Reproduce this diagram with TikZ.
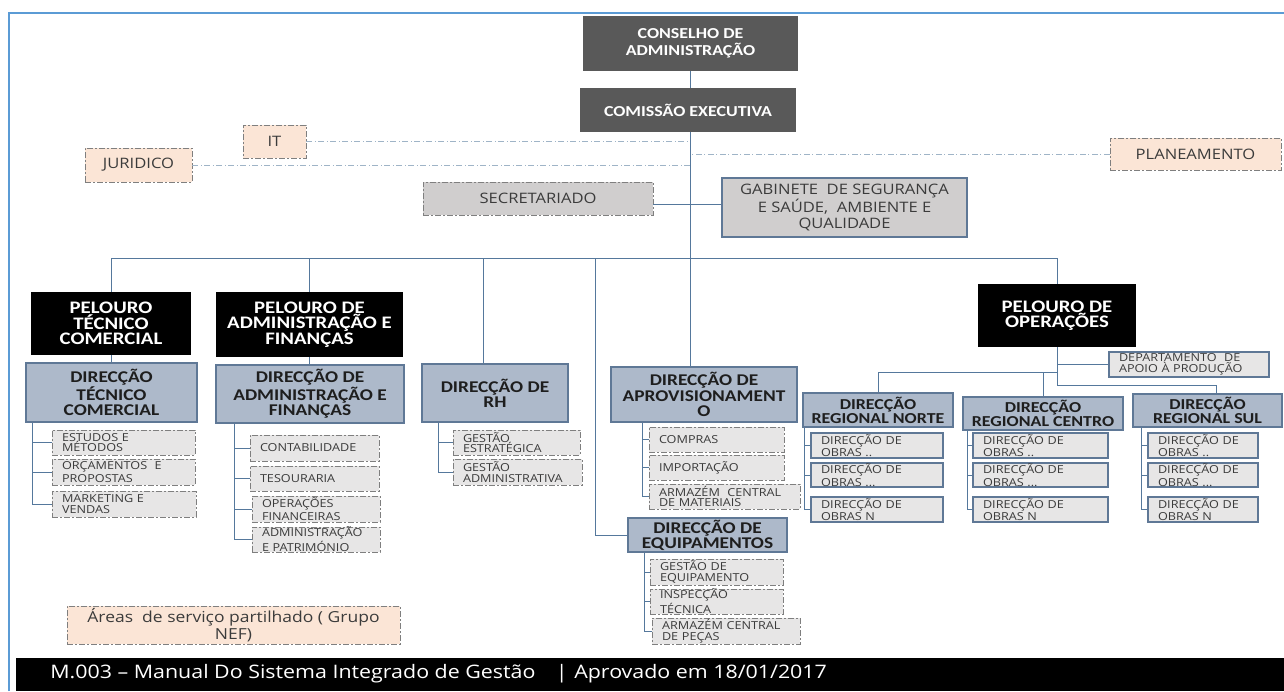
\documentclass[tikz,border=0pt]{standalone}
\usepackage{fontspec}
\setmainfont{Open Sans}[FakeStretch=1.15]
\newfontfamily\hdrfont{Carlito}[FakeStretch=1.18]
\usetikzlibrary{calc}
\definecolor{darkboxc}{HTML}{595959}
\definecolor{hdrfill}{HTML}{ADB9CA}
\definecolor{hdrdraw}{HTML}{5F7896}
\definecolor{subfill}{HTML}{E7E6E6}
\definecolor{subdraw}{HTML}{7F7F7F}
\definecolor{peachc}{HTML}{FBE5D6}
\definecolor{secfill}{HTML}{D0CECE}
\definecolor{conncol}{HTML}{55789C}
\definecolor{dashcol}{HTML}{9FB4C7}
\definecolor{framecol}{HTML}{5B9BD5}
\definecolor{txtc}{HTML}{3B3B3B}
\definecolor{dirtxt}{HTML}{1E1E1E}
\newcommand{\cbox}[7]{%
  \pgfmathsetmacro{\bxcx}{(#3+#5)/2}\pgfmathsetmacro{\bxcy}{(#4+#6)/2}%
  \pgfmathsetmacro{\bxw}{(#5-#3)*0.5}\pgfmathsetmacro{\bxh}{(#6-#4)*0.5}%
  \pgfmathsetmacro{\bxtw}{\bxw-10}%
  \node[#1, minimum width=\bxw pt, minimum height=\bxh pt] (#2) at (\bxcx,\bxcy) {#7};}
\tikzset{
  ddpat/.style={dash pattern=on 2.8pt off 1.2pt on 0.8pt off 1.2pt},
  boxbase/.style={inner sep=0pt, align=center},
  darkbox/.style={boxbase, fill=darkboxc, text=white, font=\hdrfont\bfseries\fontsize{7.6}{8.3}\selectfont},
  pel/.style={boxbase, fill=black, text=white, font=\hdrfont\bfseries\fontsize{8.8}{7.7}\selectfont},
  dir/.style={boxbase, fill=hdrfill, draw=hdrdraw, line width=0.6pt, text=dirtxt, font=\hdrfont\bfseries\fontsize{8.2}{7.6}\selectfont},
  reg/.style={dir, font=\hdrfont\bfseries\fontsize{7.6}{7}\selectfont},
  sub/.style={boxbase, fill=subfill, draw=subdraw, line width=0.45pt, ddpat, text=txtc, text width=\bxtw pt, align=left, inner xsep=5pt, font=\fontsize{5.5}{5.2}\selectfont},
  obra/.style={sub, draw=hdrdraw, solid, line width=0.55pt},
  peachbox/.style={boxbase, fill=peachc, draw=subdraw, line width=0.45pt, ddpat, text=txtc, font=\fontsize{7.2}{8}\selectfont},
  nefbox/.style={peachbox, font=\fontsize{7.6}{8.4}\selectfont},
  secbox/.style={boxbase, fill=secfill, draw=subdraw, line width=0.45pt, ddpat, text=txtc, font=\fontsize{7.2}{8}\selectfont},
  gabbox/.style={boxbase, fill=secfill, draw=hdrdraw, line width=0.6pt, text=txtc, font=\fontsize{7.2}{8}\selectfont},
  conn/.style={draw=conncol, line width=0.5pt},
  dline/.style={draw=dashcol, line width=0.5pt, dash pattern=on 3pt off 1.2pt on 0.6pt off 1.2pt},
  footbar/.style={fill=black, inner sep=0pt},
}
\begin{document}
\begin{tikzpicture}[x=0.5pt, y=-0.5pt]
\useasboundingbox (0,0) rectangle (1284,691);
% frame
\draw[framecol, line width=1pt] (9,691) -- (9,13) -- (1284,13);
% top
\cbox{darkbox}{cons}{583}{16}{798}{71}{CONSELHO DE\\ADMINISTRAÇÃO}
\cbox{darkbox}{comi}{580}{88}{796}{132}{COMISSÃO EXECUTIVA}
\cbox{peachbox}{it}{243}{125}{306}{158}{IT}
\cbox{peachbox}{jur}{85}{148}{192}{182}{JURIDICO}
\cbox{peachbox}{plan}{1110}{138}{1281}{170}{PLANEAMENTO}
\cbox{secbox}{secr}{423}{182}{653}{215}{SECRETARIADO}
\cbox{gabbox}{gab}{722}{178}{967}{237}{GABINETE\ \ DE SEGURANÇA\\E SAÚDE,\ \ AMBIENTE E\\QUALIDADE}
% pelouros
\cbox{pel}{ptc}{31}{292}{191}{355}{PELOURO\\TÉCNICO\\COMERCIAL}
\cbox{pel}{paf}{216}{292}{403}{357}{PELOURO DE\\ADMINISTRAÇÃO E\\FINANÇAS}
\cbox{pel}{pof}{978}{284}{1136}{347}{PELOURO DE\\OPERAÇÕES}
% direccoes
\cbox{dir}{dtc}{26}{363}{197}{422}{DIRECÇÃO\\TÉCNICO\\COMERCIAL}
\cbox{dir}{daf}{216}{365}{404}{423}{DIRECÇÃO DE\\ADMINISTRAÇÃO E\\FINANÇAS}
\cbox{dir}{drh}{422}{364}{568}{422}{DIRECÇÃO DE\\RH}
\cbox{dir}{dap}{611}{367}{797}{422}{DIRECÇÃO DE\\APROVISIONAMENT\\O}
\cbox{dir}{deq}{628}{518}{787}{552}{DIRECÇÃO DE\\EQUIPAMENTOS}
\cbox{reg}{dno}{803}{393}{953}{427}{DIRECÇÃO\\REGIONAL NORTE}
\cbox{reg}{dce}{963}{397}{1123}{430}{DIRECÇÃO\\REGIONAL CENTRO}
\cbox{reg}{dsu}{1133}{394}{1282}{427}{DIRECÇÃO\\REGIONAL SUL}
\cbox{obra}{dept}{1109}{352}{1269}{377}{DEPARTAMENTO\ \ DE\\APOIO À PRODUÇÃO}
% sub items
\cbox{sub}{tc1}{52}{430}{195}{455}{ESTUDOS E\\MÉTODOS}
\cbox{sub}{tc2}{52}{459}{195}{485}{ORÇAMENTOS\ \ E\\PROPOSTAS}
\cbox{sub}{tc3}{52}{491}{196}{517}{MARKETING E\\VENDAS}
\cbox{sub}{af1}{250}{435}{379}{461}{CONTABILIDADE}
\cbox{sub}{af2}{250}{466}{379}{491}{TESOURARIA}
\cbox{sub}{af3}{252}{496}{380}{522}{OPERAÇÕES\\FINANCEIRAS}
\cbox{sub}{af4}{252}{527}{380}{552}{ADMINISTRAÇÃO\\E PATRIMÓNIO}
\cbox{sub}{rh1}{453}{430}{580}{455}{GESTÃO\\ESTRATÉGICA}
\cbox{sub}{rh2}{453}{459}{582}{485}{GESTÃO\\ADMINISTRATIVA}
\cbox{sub}{ap1}{649}{427}{784}{452}{COMPRAS}
\cbox{sub}{ap2}{649}{455}{784}{480}{IMPORTAÇÃO}
\cbox{sub}{ap3}{649}{484}{800}{509}{ARMAZÉM\ \ CENTRAL\\DE MATERIAIS}
\cbox{sub}{eq1}{650}{559}{783}{585}{GESTÃO DE\\EQUIPAMENTO}
\cbox{sub}{eq2}{650}{589}{783}{614}{INSPECÇÃO\\TÉCNICA}
\cbox{sub}{eq3}{652}{618}{800}{644}{ARMAZÉM CENTRAL\\DE PEÇAS}
\cbox{obra}{no1}{811}{433}{943}{458}{DIRECÇÃO DE\\OBRAS ..}
\cbox{obra}{no2}{811}{463}{943}{487}{DIRECÇÃO DE\\OBRAS ...}
\cbox{obra}{no3}{811}{497}{943}{522}{DIRECÇÃO DE\\OBRAS N}
\cbox{obra}{ce1}{973}{433}{1108}{458}{DIRECÇÃO DE\\OBRAS ..}
\cbox{obra}{ce2}{973}{463}{1108}{487}{DIRECÇÃO DE\\OBRAS ...}
\cbox{obra}{ce3}{973}{497}{1108}{522}{DIRECÇÃO DE\\OBRAS N}
\cbox{obra}{su1}{1148}{433}{1258}{458}{DIRECÇÃO DE\\OBRAS ..}
\cbox{obra}{su2}{1148}{463}{1258}{487}{DIRECÇÃO DE\\OBRAS ...}
\cbox{obra}{su3}{1148}{497}{1258}{522}{DIRECÇÃO DE\\OBRAS N}
\cbox{nefbox}{nef}{67}{606}{400}{644}{Áreas\ \ de serviço partilhado ( Grupo\\NEF)}
% footer
\cbox{footbar}{fbar}{16}{658}{1284}{691}{}
\node[anchor=west, inner sep=0pt, text=white, font=\fontsize{9.3}{10}\selectfont] (ftxt) at (50,674) {M.003 – Manual Do Sistema Integrado de Gestão\hspace{1.1em}|\hspace{0.35em}Aprovado em 18/01/2017};
% coordinates
\coordinate (trk) at (690,0);
\coordinate (bar) at (0,258);
\coordinate (rhx) at (483,0);
\coordinate (eqx) at (595,0);
\coordinate (opj) at (0,385);
\coordinate (sulx) at (1216,0);
\coordinate (nbar) at (0,372);
\coordinate (sy) at ($(secr.east)+(0,6)$);
% dash-dot links
\draw[dline] (it.east) -- (it.east -| trk);
\draw[dline] (jur.east) -- (jur.east -| trk);
\draw[dline] (plan.west) -- (plan.west -| trk);
% main connectors
\draw[conn] (cons.south -| trk) -- (comi.north -| trk);
\draw[conn] (comi.south -| trk) -- (dap.north -| trk);
\draw[conn] (sy) -- (sy -| gab.west);
\draw[conn] (ptc.north) -- (ptc.north |- bar) -- (pof.north |- bar) -- (pof.north);
\draw[conn] (paf.north |- bar) -- (paf.north);
\draw[conn] (rhx |- bar) -- (rhx |- drh.north);
\draw[conn] (eqx |- bar) |- (deq.west);
\draw[conn] (ptc.south) -- (ptc.south |- dtc.north);
\draw[conn] (paf.south) -- (paf.south |- daf.north);
% operacoes
\draw[conn] (pof.south) -- (pof.south |- opj) -- (sulx |- opj) -- (sulx |- dsu.north);
\draw[conn] (pof.south |- dept.west) -- (dept.west);
\draw[conn] (pof.south |- nbar) -| (dno.north);
\draw[conn] (dce.north |- nbar) -- (dce.north);
% sub trees
\coordinate (tcx) at (32,0);
\draw[conn] (tcx |- dtc.south) |- (tc3.west);
\foreach \n in {tc1,tc2} \draw[conn] (tcx |- \n.west) -- (\n.west);
\coordinate (afx) at (234,0);
\draw[conn] (afx |- daf.south) |- (af4.west);
\foreach \n in {af1,af2,af3} \draw[conn] (afx |- \n.west) -- (\n.west);
\coordinate (rhv) at (438,0);
\draw[conn] (rhv |- drh.south) |- (rh2.west);
\draw[conn] (rhv |- rh1.west) -- (rh1.west);
\coordinate (apx) at (642,0);
\draw[conn] (apx |- dap.south) |- (ap3.west);
\foreach \n in {ap1,ap2} \draw[conn] (apx |- \n.west) -- (\n.west);
\coordinate (eqv) at (644,0);
\draw[conn] (eqv |- deq.south) |- (eq3.west);
\foreach \n in {eq1,eq2} \draw[conn] (eqv |- \n.west) -- (\n.west);
\coordinate (nox) at (804,0);
\draw[conn] (nox |- dno.south) |- (no3.west);
\foreach \n in {no1,no2} \draw[conn] (nox |- \n.west) -- (\n.west);
\coordinate (cex) at (967,0);
\draw[conn] (cex |- dce.south) |- (ce3.west);
\foreach \n in {ce1,ce2} \draw[conn] (cex |- \n.west) -- (\n.west);
\coordinate (sux) at (1141,0);
\draw[conn] (sux |- dsu.south) |- (su3.west);
\foreach \n in {su1,su2} \draw[conn] (sux |- \n.west) -- (\n.west);
\end{tikzpicture}
\end{document}
